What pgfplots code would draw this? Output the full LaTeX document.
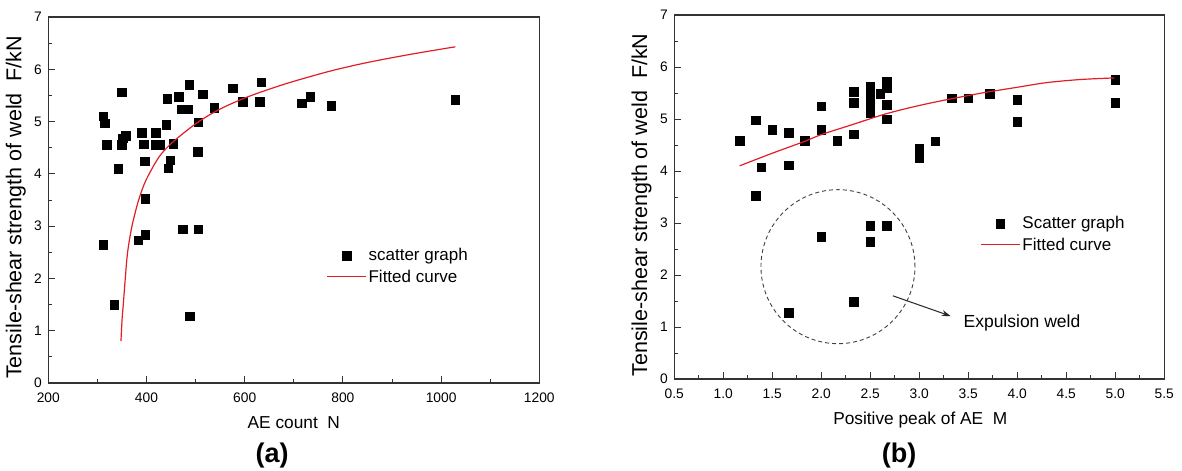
\documentclass[border=0pt]{standalone}
\usepackage{pgfplots}
\pgfplotsset{compat=1.18}
\usepackage{fontspec}
\setmainfont{Liberation Sans}
\usetikzlibrary{arrows.meta}
\definecolor{fitred}{RGB}{225,30,40}
\pgfplotsset{
  myaxis/.style={
    scale only axis,
    clip mode=individual,
    axis line style={black!80, line width=1.1bp},
    tick align=inside,
    xtick pos=bottom, ytick pos=left,
    major tick length=7bp, minor tick length=4bp,
    every tick/.style={black!80, line width=1bp},
    ymin=0, ymax=7, ytick={0,1,...,7}, minor y tick num=1,
    every x tick label/.append style={font=\fontsize{13.8bp}{16bp}\selectfont, yshift=-6bp},
    every y tick label/.append style={font=\fontsize{13.8bp}{16bp}\selectfont, xshift=-3bp},
    /pgf/number format/assume math mode=true,
    legend style={draw=none, fill=none, font=\fontsize{17bp}{20bp}\selectfont, inner sep=0pt, row sep=3.5bp},
    legend cell align=left,
    legend image code/.code={\draw[mark repeat=2,mark phase=2,##1] plot coordinates {(0bp,0bp) (19.5bp,0bp) (39bp,0bp)};},
    every axis x label/.style={anchor=center, font=\fontsize{17.3bp}{20bp}\selectfont},
    every axis y label/.style={anchor=center, rotate=90, font=\fontsize{21.5bp}{24bp}\selectfont},
    ylabel={Tensile-shear strength of weld\ \ F/kN},
  },
  scatterpts/.style={only marks, mark=square*, mark size=4.3bp, black},
  fitcurve/.style={fitred, line width=1.2bp, smooth, tension=0.5, no marks},
}
\begin{document}
\begin{tikzpicture}
\useasboundingbox (0,0) rectangle (1182bp,471bp);
% ---------------- (a) ----------------
\begin{axis}[myaxis,
  at={(48.3bp,88bp)}, anchor=south west,
  width=491bp, height=366bp,
  xmin=200, xmax=1200, xtick={200,400,...,1200}, minor x tick num=1,
  /pgf/number format/1000 sep={},
  xlabel={AE count\ \ N},
  x label style={at={(axis description cs:0.5,-0.109)}},
  y label style={at={(axis description cs:-0.066,0.48)}},
  legend style={at={(axis description cs:0.566,0.373)}, anchor=north west},
]
\addplot[scatterpts] coordinates {
(312,5.10) (315,4.97) (349,5.56) (319.5,4.56) (349,4.56) (351,4.68) (358,4.73)
(342.6,4.10) (390,4.79) (394,4.57) (396,4.24) (419,4.79) (419,4.56) (427.5,4.56)
(440,4.94) (442,5.44) (454.6,4.58) (448,4.26) (444,4.11) (465,5.48) (487,5.70)
(472,5.24) (484.5,5.24) (514,5.52) (505.5,4.99) (504,4.42) (538,5.26) (575,5.64)
(596,5.38) (634,5.75) (630,5.38) (716,5.35) (733.6,5.47) (776,5.30) (1029,5.42)
(397.6,3.53) (312,2.64) (383,2.73) (397.6,2.84) (473.5,2.94) (505,2.94)
(334,1.50) (488,1.28)
};
\addlegendentry{scatter graph}
\addplot[fitcurve] coordinates {
(348,0.80) (349,1.00) (350.5,1.25) (352.7,1.50) (356.8,2.00) (361.5,2.50)
(370.4,3.00) (384,3.50) (399,3.88) (426,4.33) (455,4.62) (505,4.99)
(550,5.24) (600,5.45) (650,5.62) (700,5.77) (776,5.97) (850,6.13) (940,6.29) (1029,6.43)
};
\addlegendentry{Fitted curve}
\node[font=\bfseries\fontsize{27bp}{30bp}\selectfont] at (axis description cs:0.456,-0.197) {(a)};
\end{axis}
% ---------------- (b) ----------------
\begin{axis}[myaxis,
  at={(674.3bp,92bp)}, anchor=south west,
  width=490bp, height=364bp,
  xmin=0.5, xmax=5.5, xtick={0.5,1,...,5.5}, minor x tick num=1,
  xticklabel style={/pgf/number format/.cd, fixed, fixed zerofill, precision=1},
  xlabel={Positive peak of AE\ \ M},
  x label style={at={(axis description cs:0.502,-0.113)}},
  y label style={at={(axis description cs:-0.067,0.478)}},
  legend style={at={(axis description cs:0.624,0.452)}, anchor=north west},
]
\addplot[scatterpts] coordinates {
(1.167,4.58) (1.333,4.98) (1.388,4.07) (1.497,4.80) (1.667,4.74) (1.667,4.11)
(1.83,4.58) (2.0,5.25) (2.0,4.80) (2.163,4.58) (2.333,5.53) (2.333,5.31) (2.333,4.71)
(2.5,5.62) (2.5,5.44) (2.5,5.27) (2.5,5.19) (2.5,5.11) (2.60,5.49)
(2.667,5.72) (2.667,5.59) (2.667,5.28) (2.667,5.00) (3.0,4.44) (3.0,4.26)
(3.163,4.57) (3.333,5.40) (3.5,5.40) (3.717,5.49) (4.0,5.37) (4.0,4.95)
(5.0,5.76) (5.0,5.31) (1.333,3.53) (2.5,2.95) (2.667,2.95) (2.5,2.64)
(2.0,2.74) (2.333,1.49) (1.667,1.28)
};
\addlegendentry{Scatter graph}
\addplot[fitcurve] coordinates {
(1.167,4.10) (1.497,4.34) (1.83,4.57) (2.0,4.70) (2.33,4.90) (2.66,5.10)
(3.0,5.26) (3.33,5.39) (3.67,5.51) (4.0,5.61) (4.3,5.70) (4.65,5.76) (4.99,5.79)
};
\addlegendentry{Fitted curve}
\draw[dashed, dash pattern=on 4bp off 3bp, black!75, line width=0.9bp] (axis cs:2.17,2.16) circle[radius=77bp];
\draw[-{Stealth[length=9bp,width=6bp]}, line width=1bp, black!85] (axis cs:2.73,1.60) -- (axis cs:3.32,1.21);
\node[anchor=west, inner sep=0pt, font=\fontsize{17.5bp}{20bp}\selectfont] at (axis cs:3.45,1.07) {Expulsion weld};
\node[font=\bfseries\fontsize{27bp}{30bp}\selectfont] at (axis description cs:0.459,-0.209) {(b)};
\end{axis}
\end{tikzpicture}
\end{document}
